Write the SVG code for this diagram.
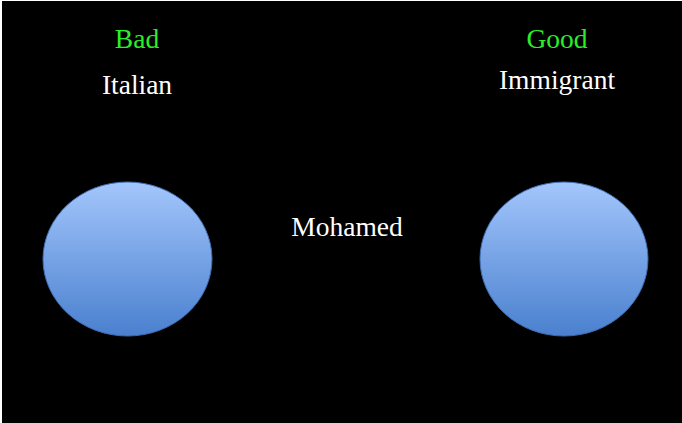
<svg xmlns="http://www.w3.org/2000/svg" width="682" height="423" viewBox="0 0 682 423">
<defs>
<linearGradient id="g" x1="0" y1="0" x2="0" y2="1">
<stop offset="0" stop-color="#a3c6fc"/>
<stop offset="1" stop-color="#4a80cf"/>
</linearGradient>
<style>
.t{font-family:"Liberation Serif","Times New Roman",serif;font-size:27.5px;text-anchor:middle}
.w{fill:#ffffff}
.gr{fill:#2aee2a}
.c{fill:url(#g);stroke:#3d6db0;stroke-width:1}
</style>
</defs>
<rect x="0" y="0" width="682" height="423" fill="#ffffff"/>
<rect x="2" y="1" width="680" height="422" fill="#000000"/>
<g id="bad-label"><text class="t gr" x="137" y="48">Bad</text></g>
<g id="italian"><text class="t w" x="137" y="94">Italian</text></g>
<g id="good-label"><text class="t gr" x="557" y="48">Good</text></g>
<g id="immigrant"><text class="t w" x="557" y="89">Immigrant</text></g>
<g id="mohamed"><text class="t w" x="347" y="236">Mohamed</text></g>
<g id="left-circle"><ellipse class="c" cx="127.5" cy="259" rx="84.5" ry="77"/></g>
<g id="right-circle"><ellipse class="c" cx="564" cy="259" rx="84" ry="77"/></g>
<g id="connectors"></g>
</svg>
